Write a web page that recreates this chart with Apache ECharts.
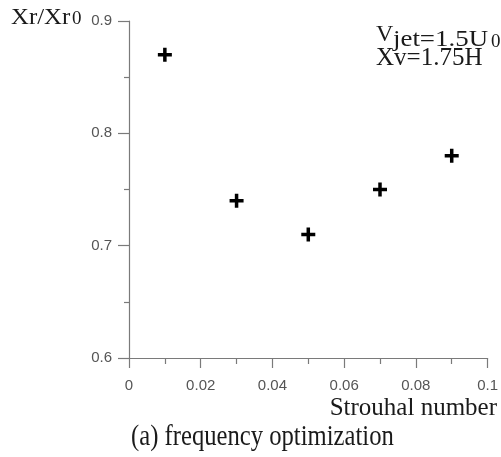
<!DOCTYPE html>
<html>
<head>
<meta charset="utf-8">
<script src="https://cdn.jsdelivr.net/npm/echarts@6/dist/echarts.min.js"></script>
<style>
html,body{margin:0;padding:0;background:#fff;}
#c{width:501px;height:457px;}
</style>
</head>
<body>
<div id="c"></div>
<script>
// Data
var strouhal = [0.01, 0.03, 0.05, 0.07, 0.09];
var xrRatio = [0.87, 0.74, 0.71, 0.75, 0.78];
var xTickValues = [0, 0.02, 0.04, 0.06, 0.08, 0.1];
var xTickLabels = ['0', '0.02', '0.04', '0.06', '0.08', '0.1'];
var yTickValues = [0.6, 0.7, 0.8, 0.9];
var yTickLabels = ['0.6', '0.7', '0.8', '0.9'];

var points = strouhal.map(function (s, i) { return [s, xrRatio[i]]; });

function labelFor(values, labels) {
  return function (v) {
    for (var i = 0; i < values.length; i++) {
      if (Math.abs(values[i] - v) < 1e-9) return labels[i];
    }
    return '';
  };
}

var serif = '"Liberation Serif", "Times New Roman", serif';
var sans = '"Liberation Sans", Arial, sans-serif';
var axisColor = '#7a7a7a';
var textColor = '#1a1a1a';

var chart = echarts.init(document.getElementById('c'), null, {renderer: 'canvas'});
chart.setOption({
  backgroundColor: '#ffffff',
  animation: false,
  grid: {left: 129, right: 11, top: 21, bottom: 99, containLabel: false},
  xAxis: {
    type: 'value',
    min: xTickValues[0],
    max: xTickValues[xTickValues.length - 1],
    interval: 0.02,
    axisLine: {show: true, lineStyle: {color: axisColor, width: 1.2}},
    axisTick: {show: true, length: 10, lineStyle: {color: axisColor, width: 1.2}},
    minorTick: {show: true, splitNumber: 2, length: 6, lineStyle: {color: axisColor, width: 1.2}},
    splitLine: {show: false},
    axisLabel: {
      margin: 20, color: '#555', fontFamily: sans, fontSize: 15,
      formatter: labelFor(xTickValues, xTickLabels)
    }
  },
  yAxis: {
    type: 'value',
    min: yTickValues[0],
    max: yTickValues[yTickValues.length - 1],
    interval: 0.1,
    axisLine: {show: true, lineStyle: {color: axisColor, width: 1.2}},
    axisTick: {show: true, length: 11, lineStyle: {color: axisColor, width: 1.2}},
    minorTick: {show: true, splitNumber: 2, length: 5, lineStyle: {color: axisColor, width: 1.2}},
    splitLine: {show: false},
    axisLabel: {
      margin: 17, color: '#555', fontFamily: sans, fontSize: 15,
      formatter: labelFor(yTickValues, yTickLabels)
    }
  },
  series: [{
    type: 'scatter',
    data: points,
    symbol: 'path://M3.75,0H6.25V3.75H10V6.25H6.25V10H3.75V6.25H0V3.75H3.75Z',
    symbolSize: 14,
    itemStyle: {color: '#000', opacity: 1},
    emphasis: {disabled: true}
  }],
  graphic: [
    {type: 'text', left: 11, top: 6, style: {text: 'Xr/Xr', font: '23px ' + serif, fill: textColor}, scaleX: 1.08},
    {type: 'text', left: 72, top: 10, style: {text: '0', font: '19px ' + serif, fill: textColor}},
    {type: 'text', left: 376, top: 23, style: {text: 'V', font: '24px ' + serif, fill: textColor}},
    {type: 'text', left: 393, top: 28, scaleX: 1.12, style: {text: 'jet=1.5U', font: '24px ' + serif, fill: textColor}},
    {type: 'text', left: 491, top: 33, style: {text: '0', font: '19px ' + serif, fill: textColor}},
    {type: 'text', left: 376, top: 46, style: {text: 'Xv=1.75H', font: '25px ' + serif, fill: textColor}},
    {type: 'text', right: 4, top: 396, style: {text: 'Strouhal number', font: '25px ' + serif, fill: textColor}},
    {type: 'text', left: 131, top: 423, scaleX: 0.85, style: {text: '(a) frequency optimization', font: '29px ' + serif, fill: textColor}}
  ]
});
</script>
</body>
</html>
